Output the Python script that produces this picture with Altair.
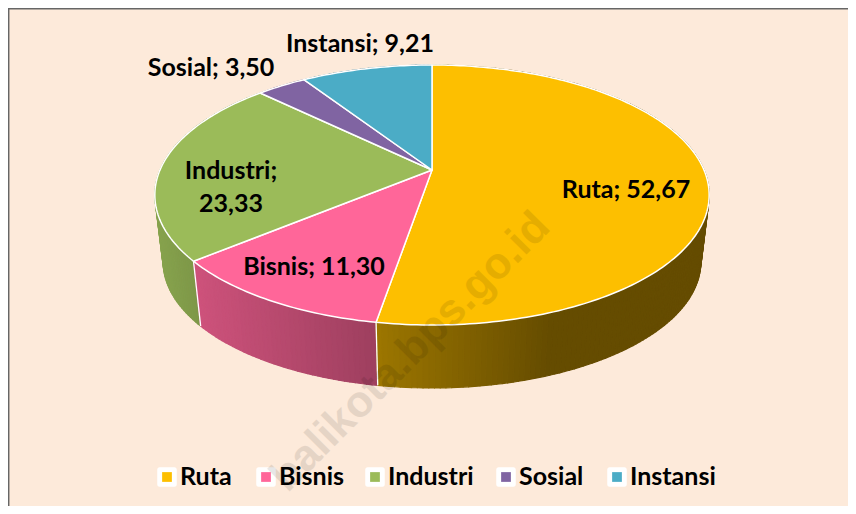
import math
import altair as alt

# ---- data ----
categories = ["Ruta", "Bisnis", "Industri", "Sosial", "Instansi"]
values = [52.67, 11.30, 23.33, 3.50, 9.21]
colors = ["#FDBF00", "#FF6699", "#9BBB59", "#8064A2", "#4BACC6"]

# ---- label layout (page pixels) ----
label_text = ["Ruta; 52,67", "Bisnis; 11,30", "Industri;", "23,33", "Sosial; 3,50", "Instansi; 9,21"]
label_x = [626, 314, 231, 231, 211, 360]
label_y = [190, 267, 171, 204, 68, 44]
legend_swatch_x = [167, 266, 375, 506, 617]
legend_text_x = [180, 279, 388, 519, 630]
legend_y = 477

FONT = "Lato"
FS = 25
BG = "#FDEADA"
M = 8
W, H = 856 - M, 514 - M  # right/bottom page edge of the canvas

# ---- disc geometry: perspective projection of a flat circle ----
P = 50 / 260
CX = 432


def rim(theta_deg, r=1.0, cy=170.0, s=1.0):
    t = math.radians(theta_deg)
    u, v = r * math.sin(t), r * math.cos(t)
    d = 1 + P * v
    return [CX + s * 272 * u / d, cy - s * 125.2 * v / d]


def lighting(x):
    stops = [(150, 0.88), (200, 0.80), (376, 0.62), (550, 0.40), (720, 0.40)]
    for (a, fa), (b, fb) in zip(stops, stops[1:]):
        if a <= x <= b:
            return fa + (fb - fa) * (x - a) / (b - a)
    return stops[-1][1]


def shade(hex_color, f):
    rgb = [int(hex_color[i:i + 2], 16) for i in (1, 3, 5)]
    return "#%02x%02x%02x" % tuple(int(round(c * f)) for c in rgb)


def poly(points, fill):
    ring = [list(p) for p in points]
    if ring[0] != ring[-1]:
        ring.append(ring[0])
    return {"type": "Feature", "properties": {"c": fill},
            "geometry": {"type": "Polygon", "coordinates": [ring]}}


def line(points, c):
    return {"type": "Feature", "properties": {"c": c},
            "geometry": {"type": "LineString", "coordinates": [list(p) for p in points]}}


total = sum(values)
bounds = [0.0]
for val in values:
    bounds.append(bounds[-1] + val / total * 360)

DEPTH_CY = 237.6
DEPTH_S = 0.97

walls, tops, seams = [], [], []
for i, col in enumerate(colors):
    a0, a1 = bounds[i], bounds[i + 1]
    n = max(2, int((a1 - a0) / 1.0))
    steps = [a0 + (a1 - a0) * k / n for k in range(n + 1)]
    for p, q in zip(steps, steps[1:]):
        quad = [rim(p), rim(q), rim(q, cy=DEPTH_CY, s=DEPTH_S), rim(p, cy=DEPTH_CY, s=DEPTH_S)]
        mx = (quad[0][0] + quad[1][0]) / 2
        walls.append(poly(quad, shade(col, lighting(mx))))
    tops.append(poly([[CX, 170.0]] + [rim(a) for a in steps], col))
    seams.append(line([rim(a0), rim(a0, cy=DEPTH_CY, s=DEPTH_S)], "#ffffff"))

# walls back to front so that the nearer ones cover the farther ones
walls.sort(key=lambda f: f["geometry"]["coordinates"][0][0][1])

canvas = [[M, M], [W, M], [W, H], [M, H]]
frame = [line([[M + 0.7, H], [M + 0.7, M + 0.7], [W, M + 0.7]], "#666666")]
proj = alt.Projection(type="identity", scale=1, translate=[-M, -M])

background = (alt.Chart(alt.Data(values=[poly(canvas, BG)]))
              .mark_geoshape(strokeWidth=0, fill=BG)
              .project(**proj.to_dict()))
wall_layer = (alt.Chart(alt.Data(values=walls))
              .mark_geoshape(strokeWidth=1.2, strokeJoin="round")
              .encode(fill=alt.Fill("properties.c:N", scale=None),
                      stroke=alt.Stroke("properties.c:N", scale=None))
              .project(**proj.to_dict()))
seam_layer = (alt.Chart(alt.Data(values=seams))
              .mark_geoshape(filled=False, stroke="#ffffff", strokeWidth=1.3)
              .project(**proj.to_dict()))
top_layer = (alt.Chart(alt.Data(values=tops))
             .mark_geoshape(stroke="#ffffff", strokeWidth=1.5, strokeJoin="round")
             .encode(fill=alt.Fill("properties.c:N", scale=None))
             .project(**proj.to_dict()))
frame_layer = (alt.Chart(alt.Data(values=frame))
               .mark_geoshape(filled=False, stroke="#666666", strokeWidth=1.5)
               .project(**proj.to_dict()))

labels = (alt.Chart(alt.Data(values=[
    {"t": t, "x": x, "y": y} for t, x, y in zip(label_text, label_x, label_y)]))
    .mark_text(font=FONT, fontSize=FS, fontWeight="bold", color="#000000", align="center", baseline="middle")
    .encode(longitude="x:Q", latitude="y:Q", text="t:N")
    .project(**proj.to_dict()))

leg_rows = [{"t": t, "sx": sx, "tx": tx, "y": legend_y, "c": c}
            for t, sx, tx, c in zip(categories, legend_swatch_x, legend_text_x, colors)]
leg_white = (alt.Chart(alt.Data(values=leg_rows))
             .mark_point(shape="square", filled=True, fill="#ffffff", stroke="#ffffff",
                         strokeWidth=5, strokeJoin="round", size=210, opacity=1)
             .encode(longitude="sx:Q", latitude="y:Q")
             .project(**proj.to_dict()))
leg_color = (alt.Chart(alt.Data(values=leg_rows))
             .mark_point(shape="square", filled=True, size=95, opacity=1)
             .encode(longitude="sx:Q", latitude="y:Q", fill=alt.Fill("c:N", scale=None))
             .project(**proj.to_dict()))
leg_text = (alt.Chart(alt.Data(values=leg_rows))
            .mark_text(font=FONT, fontSize=FS, fontWeight="bold", color="#000000", align="left", baseline="middle")
            .encode(longitude="tx:Q", latitude="y:Q", text="t:N")
            .project(**proj.to_dict()))

watermark = (alt.Chart(alt.Data(values=[{"t": "balikota.bps.go.id", "x": 552, "y": 229}]))
             .mark_text(font="Liberation Sans", fontSize=44, fontWeight="bold", color="#000000", opacity=0.09,
                        align="right", baseline="alphabetic", angle=315)
             .encode(longitude="x:Q", latitude="y:Q", text="t:N")
             .project(**proj.to_dict()))

chart = (alt.layer(background, frame_layer, wall_layer, seam_layer, top_layer,
                   leg_white, leg_color, leg_text, labels, watermark)
         .properties(width=W - M, height=H - M, padding=0, background=BG,
                     autosize=alt.AutoSizeParams(type="none"))
         .configure_view(stroke=None))

chart.save("out.html", embed_options={"renderer": "svg", "actions": False})
